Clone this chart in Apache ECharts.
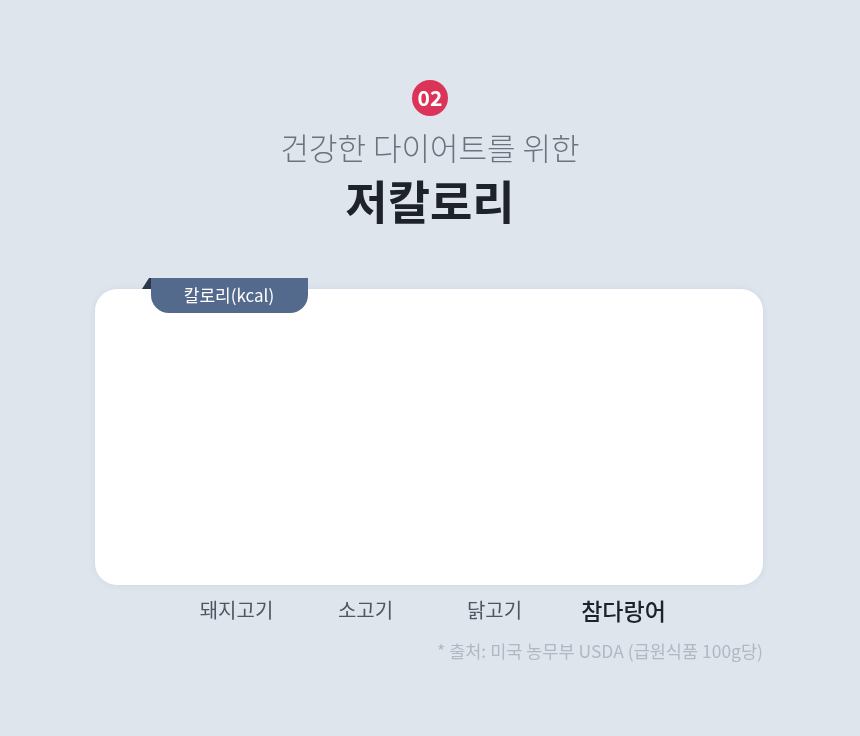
<!DOCTYPE html>
<html>
<head>
<meta charset="utf-8">
<script src="https://cdn.jsdelivr.net/npm/echarts@6/dist/echarts.min.js"></script>
<style>
  html, body { margin: 0; padding: 0; background: #dfe5ed; }
  #chart { width: 860px; height: 736px; }
</style>
</head>
<body>
<div id="chart"></div>
<script>
// 카테고리 (고기 종류)
var categories = ['돼지고기', '소고기', '닭고기', '참다랑어'];
// 칼로리 값: 그림에는 막대가 보이지 않음
var calories = ['-', '-', '-', '-'];
var highlightIndex = 3;

var badgeText = '02';
var subTitle = '건강한 다이어트를 위한';
var mainTitle = '저칼로리';
var unitLabel = '칼로리(kcal)';
var sourceText = '* 출처: 미국 농무부 USDA (급원식품 100g당)';

var font = '"Noto Sans CJK KR", "Noto Sans", sans-serif';

var chart = echarts.init(document.getElementById('chart'), null, { renderer: 'canvas' });

var catData = categories.map(function (c, i) {
  if (i === highlightIndex) {
    return { value: c, textStyle: { color: '#1e222b', fontWeight: 500, fontSize: 23 } };
  }
  return c;
});

chart.setOption({
  backgroundColor: '#dfe5ed',
  animation: false,
  grid: { left: 172, right: 172, top: 330, bottom: 151 },
  xAxis: {
    type: 'category',
    data: catData,
    axisLine: { show: false },
    axisTick: { show: false },
    axisLabel: { margin: 15, fontSize: 20, color: '#4f5663', fontFamily: font }
  },
  yAxis: {
    type: 'value',
    show: false,
    min: 0,
    max: 300
  },
  series: [{
    type: 'bar',
    data: calories,
    barWidth: 50,
    z: 10,
    itemStyle: { color: '#536a8c' }
  }],
  graphic: [
    // 배지
    { type: 'circle', shape: { cx: 430, cy: 98, r: 18 }, style: { fill: '#dc3358' } },
    { type: 'text', x: 430, y: 98, style: { text: badgeText, fill: '#fff', font: 'bold 21px ' + font, align: 'center', verticalAlign: 'middle' } },
    { type: 'text', x: 430, y: 148, style: { text: subTitle, fill: '#6b7380', font: '300 31px ' + font, align: 'center', verticalAlign: 'middle' } },
    { type: 'text', x: 430, y: 202, style: { text: mainTitle, fill: '#1e222b', font: 'bold 46px ' + font, align: 'center', verticalAlign: 'middle' } },
    // 카드
    { type: 'rect', z: -1, shape: { x: 95, y: 289, width: 668, height: 296, r: 22 }, style: { fill: '#ffffff', shadowBlur: 6, shadowColor: 'rgba(120,135,160,0.15)' } },
    // 탭 접힘
    { type: 'polygon', z: 1, shape: { points: [[142, 289], [149, 278], [151, 278], [151, 289]] }, style: { fill: '#2c3848' } },
    { type: 'rect', z: 2, shape: { x: 151, y: 278, width: 157, height: 35, r: [0, 0, 18, 18] }, style: { fill: '#536a8c' } },
    { type: 'text', z: 3, x: 229, y: 296, style: { text: unitLabel, fill: '#fff', font: '17px ' + font, align: 'center', verticalAlign: 'middle' } },
    // 출처
    { type: 'text', x: 763, y: 651, style: { text: sourceText, fill: '#b0b8c4', font: '17.5px ' + font, align: 'right', verticalAlign: 'middle' } }
  ]
});
</script>
</body>
</html>
